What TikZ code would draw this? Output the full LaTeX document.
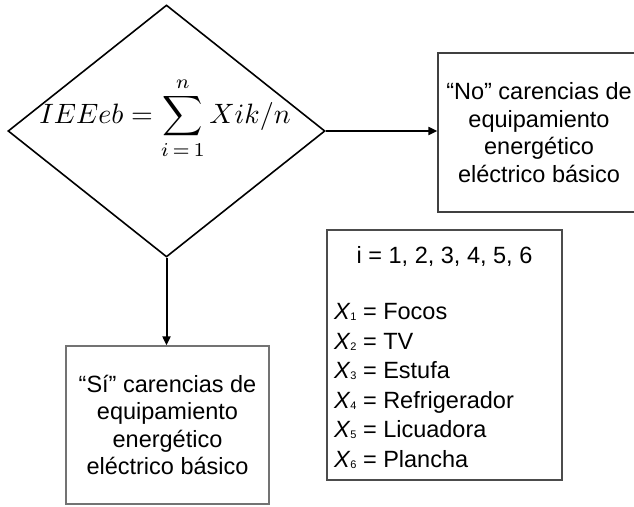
\documentclass[tikz,border=0pt]{standalone}
\usepackage{amsmath}
\usepackage{fontspec}
\setmainfont{Liberation Sans}
\usetikzlibrary{shapes.geometric,arrows.meta}
\begin{document}
\begin{tikzpicture}[x=1pt,y=-1pt,
  boxtxt/.style={font=\fontsize{23.5}{27.5}\selectfont, align=center},
  outbox/.style={draw=black!75, line width=1.3pt, rectangle, inner sep=0pt},
  arr/.style={draw=black, line width=2pt, -{Triangle[length=9pt,width=8pt]}},
  itemtxt/.style={font=\fontsize{23.5}{27.5}\selectfont, anchor=base west, inner sep=0pt}
]
\useasboundingbox (0,0) rectangle (634,506);
\begin{scope}
\clip (0,0) rectangle (634,506);
% decision diamond
\node[diamond, draw=black, line width=1.6pt, minimum width=317pt, minimum height=252pt, inner sep=0pt] (dia) at (166.5,131) {};
\node[inner sep=0pt] (formula) at (165,118)
  {\scalebox{2.8}{$\displaystyle IEEeb = \sum_{i\,=\,1}^{n} Xik/n$}};
% outcome boxes
\node[outbox, minimum width=202pt, minimum height=159pt] (no) at (539,132.5) {};
\node[boxtxt] (notxt) at (no.center) {“No” carencias de\\equipamiento\\energético\\eléctrico básico};
\node[outbox, draw=black!55, minimum width=203pt, minimum height=158pt] (si) at (167.5,425) {};
\node[boxtxt] (sitxt) at (si.center) {“Sí” carencias de\\equipamiento\\energético\\eléctrico básico};
% legend box
\node[outbox, draw=black!70, minimum width=235pt, minimum height=250pt] (leg) at (444.5,355) {};
\node[itemtxt, anchor=base] (li) at (444.5,263) {i = 1, 2, 3, 4, 5, 6};
\newcommand{\xsub}[1]{{\itshape X}\kern0.5pt\raisebox{-1pt}{\fontsize{11}{11}\selectfont #1}}
\node[itemtxt] (x1) at (334,319.5) {\xsub{1} = Focos};
\node[itemtxt] (x2) at (334,349) {\xsub{2} = TV};
\node[itemtxt] (x3) at (334,378.5) {\xsub{3} = Estufa};
\node[itemtxt] (x4) at (334,408) {\xsub{4} = Refrigerador};
\node[itemtxt] (x5) at (334,437.5) {\xsub{5} = Licuadora};
\node[itemtxt] (x6) at (334,467) {\xsub{6} = Plancha};
% connectors
\draw[arr] (dia.east) -- (dia.east -| no.west);
\draw[arr] (dia.south) -- (dia.south |- si.north);
\end{scope}
\end{tikzpicture}
\end{document}
